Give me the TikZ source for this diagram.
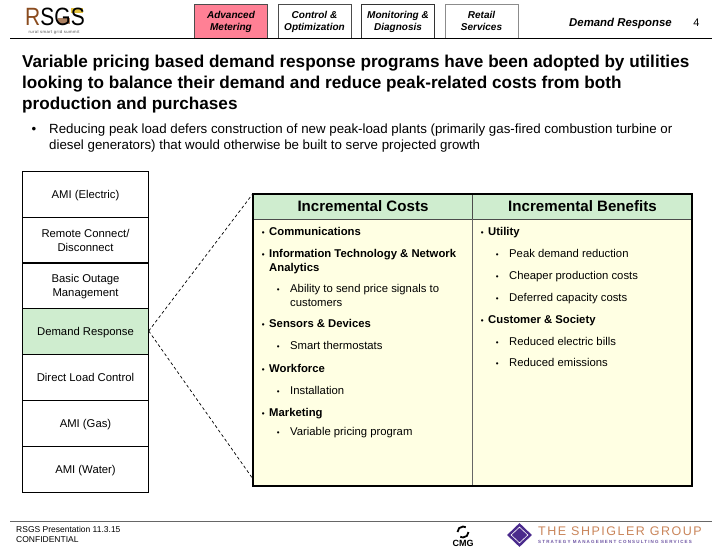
\documentclass[tikz,border=0pt]{standalone}
\usepackage{fontspec}
\usetikzlibrary{shapes.geometric}
\setmainfont{Liberation Sans}
\definecolor{tabpink}{HTML}{FF8095}
\definecolor{hdgreen}{HTML}{CFEDCF}
\definecolor{panelyellow}{HTML}{FFFFE3}
\definecolor{logobrown}{HTML}{8A4B1E}
\definecolor{logogold}{HTML}{E3C23C}
\definecolor{shpurple}{HTML}{4A2A8C}
\definecolor{shorange}{HTML}{C9855A}
\newcommand{\mainbul}{\llap{\raisebox{0.5pt}{\fontsize{8}{8}\selectfont\textbullet}\hspace{4.5pt}}}
\newcommand{\subbul}{\llap{\raisebox{0.5pt}{\fontsize{8}{8}\selectfont\textbullet}\hspace{10.5pt}}}
\tikzset{
  tabbox/.style={draw=#1,line width=1pt,minimum width=73pt,minimum height=34pt,inner sep=0pt,text depth=-2pt,
    align=center,font=\fontsize{10}{12.5}\selectfont\itshape\bfseries},
  stackbox/.style={draw=black,line width=0.9pt,minimum width=125.5pt,minimum height=46pt,inner sep=0pt,text depth=-1.5pt,
    align=center,font=\fontsize{11.3}{14}\selectfont},
  headbox/.style={draw=black!70,line width=0.6pt,fill=hdgreen,minimum height=25pt,inner sep=0pt,text depth=-3pt,
    font=\fontsize{15.1}{17}\selectfont\bfseries},
  mainitem/.style={anchor=north west,inner sep=0pt,align=left,font=\fontsize{11.3}{13.5}\selectfont\bfseries},
  subitem/.style={anchor=north west,inner sep=0pt,align=left,font=\fontsize{11.3}{13.5}\selectfont},
  plaintext/.style={anchor=north west,inner sep=0pt,align=left},
}
\begin{document}
\begin{tikzpicture}[x=1pt,y=-1pt]
  \useasboundingbox (0,0) rectangle (720,549);
  % top bar
  \node[tabbox=black!70,fill=tabpink] (metering) at (231,21) {Advanced\\Metering};
  \node[tabbox=black!70] (control) at (314.5,21) {Control \&\\Optimization};
  \node[tabbox=black!80] (monitoring) at (398,21) {Monitoring \&\\Diagnosis};
  \node[tabbox=black!45] (retail) at (481.5,21) {Retail\\Services};
  \coordinate (topleft) at (10,38);
  \coordinate (topright) at (712,38);
  \draw[line width=1pt] (topleft) -- (topright);
  \node[font=\fontsize{11.4}{13}\selectfont\itshape\bfseries] (pagename) at (620.5,23.5) {Demand Response};
  \node[font=\fontsize{11}{13}\selectfont] (pagenum) at (696.5,22.5) {4};
  % logo
  \fill[logogold] (71,8) rectangle (83,13);
  \fill[logobrown!70] (58,18) rectangle (70,24);
  \node[inner sep=0pt,xscale=0.84,text depth=0pt,font=\fontsize{25}{25}\selectfont] (rsgs) at (55,17) {\textcolor{logobrown}{R}SGS};
  \node[inner sep=0pt,font=\fontsize{4.2}{5}\selectfont\addfontfeature{LetterSpace=10},text=black!70] (rsgssub) at (54,32.5) {rural smart grid summit};
  % title
  \node[plaintext,font=\fontsize{17.15}{21}\selectfont\bfseries] (title) at (22,54.5)
    {Variable pricing based demand response programs have been adopted by utilities\\
     looking to balance their demand and reduce peak-related costs from both\\
     production and purchases};
  \node[plaintext,font=\fontsize{13.3}{16}\selectfont] (lead) at (49,123.5)
    {\llap{\textbullet\hspace{13pt}}Reducing peak load defers construction of new peak-load plants (primarily gas-fired combustion turbine or\\
     diesel generators) that would otherwise be built to serve projected growth};
  % left stack
  \node[stackbox] (electric) at (85.5,194) {AMI (Electric)};
  \node[stackbox] (remote) at (85.5,240) {Remote Connect/\\Disconnect};
  \node[stackbox] (outage) at (85.5,285.5) {Basic Outage\\Management};
  \node[stackbox,fill=hdgreen] (demand) at (85.5,331) {Demand Response};
  \node[stackbox] (direct) at (85.5,377) {Direct Load Control};
  \node[stackbox] (gas) at (85.5,423) {AMI (Gas)};
  \node[stackbox] (water) at (85.5,469) {AMI (Water)};
  % right panel
  \node[fill=panelyellow,draw=none,minimum width=439pt,minimum height=292pt,inner sep=0pt] (panel) at (472.5,340) {};
  \node[headbox,minimum width=219pt] (costs) at (363,206.5) {Incremental Costs};
  \node[headbox,minimum width=220pt] (benefits) at (582.5,206.5) {Incremental Benefits};
  \coordinate (splittop) at (472.5,219);
  \coordinate (splitbot) at (472.5,486);
  \draw[black!60,line width=0.6pt] (splittop) -- (splitbot);
  \draw[line width=1.6pt] (panel.north west) rectangle (panel.south east);
  \node[mainitem] (comm) at (269,227.5) {\mainbul Communications};
  \node[mainitem] (infotech) at (269,249.5) {\mainbul Information Technology \& Network\\Analytics};
  \node[subitem] (signals) at (290,284.5) {\subbul Ability to send price signals to\\customers};
  \node[mainitem] (sensors) at (269,319.5) {\mainbul Sensors \& Devices};
  \node[subitem] (thermo) at (290,341.5) {\subbul Smart thermostats};
  \node[mainitem] (workforce) at (269,364.5) {\mainbul Workforce};
  \node[subitem] (install) at (290,386.5) {\subbul Installation};
  \node[mainitem] (marketing) at (269,408.5) {\mainbul Marketing};
  \node[subitem] (program) at (290,427.5) {\subbul Variable pricing program};
  \node[mainitem] (utility) at (488,227.5) {\mainbul Utility};
  \node[subitem] (peak) at (509,249.5) {\subbul Peak demand reduction};
  \node[subitem] (cheaper) at (509,271.5) {\subbul Cheaper production costs};
  \node[subitem] (deferred) at (509,293.5) {\subbul Deferred capacity costs};
  \node[mainitem] (society) at (488,315.5) {\mainbul Customer \& Society};
  \node[subitem] (bills) at (509,337.5) {\subbul Reduced electric bills};
  \node[subitem] (emissions) at (509,358.5) {\subbul Reduced emissions};
  % zoom lines
  \coordinate (zoomend) at (253,479);
  \begin{scope}[dash pattern=on 3pt off 2.5pt,line width=0.7pt]
    \draw (demand.east) to (panel.north west);
    \draw (demand.east) to (zoomend);
  \end{scope}
  % footer
  \coordinate (footleft) at (10,521);
  \coordinate (footright) at (712,521);
  \draw[black!60,line width=1pt] (footleft) -- (footright);
  \node[plaintext,font=\fontsize{8.5}{10.5}\selectfont] (foot) at (16,526) {RSGS Presentation 11.3.15\\CONFIDENTIAL};
  \draw[line width=1.8pt] (457.5,532) arc (180:300:5.5);
  \draw[line width=1.8pt] (468.5,532) arc (0:120:5.5);
  \node[inner sep=0pt,font=\fontsize{9}{9}\selectfont\bfseries] (cmg) at (463,543) {CMG};
  \node[diamond,fill=shpurple,minimum width=25pt,minimum height=24pt,inner sep=0pt] (gem) at (519.5,535) {};
  \node[diamond,draw=white,line width=0.6pt,minimum width=17pt,minimum height=16pt,inner sep=0pt] (geminner) at (519.5,535) {};
  \node[anchor=west,inner sep=0pt,text=shorange,font=\fontsize{12.5}{14}\selectfont\addfontfeature{LetterSpace=12}] (shp) at (538,531.5) {THE SHPIGLER GROUP};
  \node[anchor=west,inner sep=0pt,text=shpurple!80,font=\fontsize{4.5}{5}\selectfont\bfseries\addfontfeature{LetterSpace=26}] (shpsub) at (538,542) {STRATEGY MANAGEMENT CONSULTING SERVICES};
\end{tikzpicture}
\end{document}
